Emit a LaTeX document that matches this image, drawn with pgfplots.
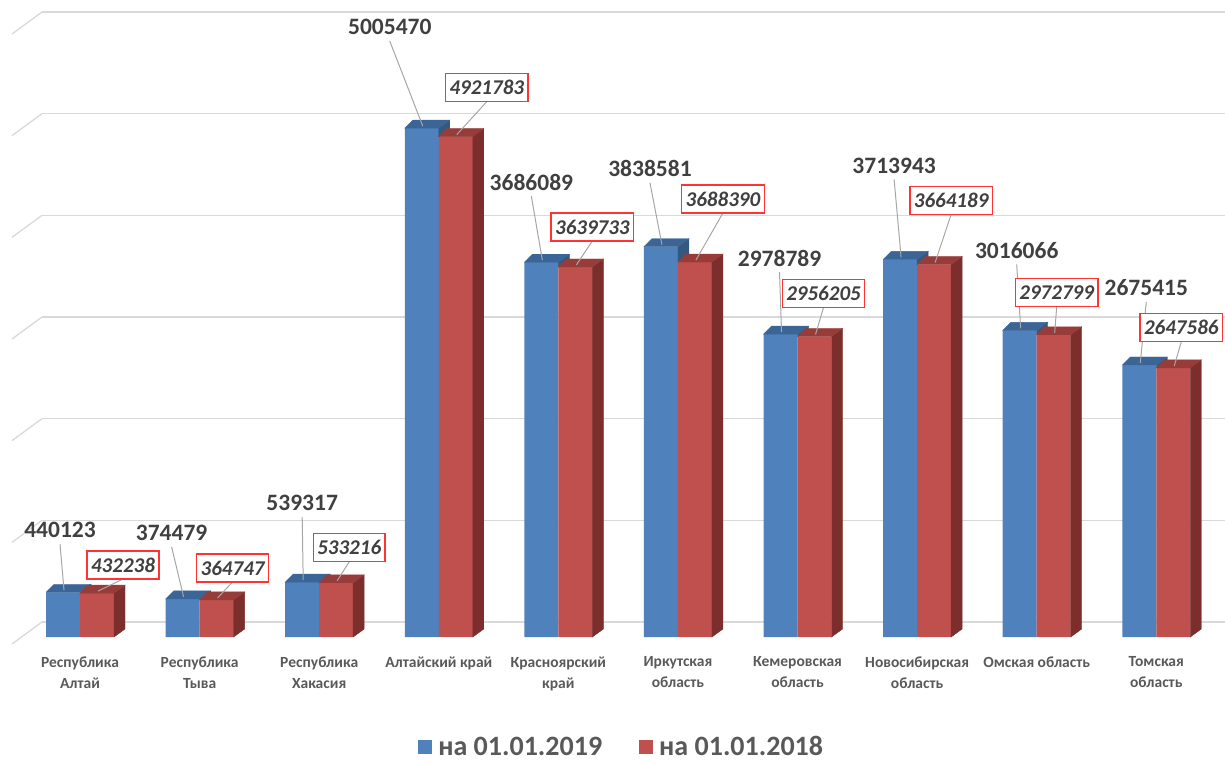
\documentclass[border=0pt]{standalone}
\usepackage{pgfplots}
\pgfplotsset{compat=1.18}
\usepackage{pgfplotstable}
\usepackage{fontspec}
\setmainfont{Carlito}
\definecolor{blueF}{HTML}{4F81BD}
\definecolor{blueT}{HTML}{3B6596}
\definecolor{blueS}{HTML}{34587F}
\definecolor{redF}{HTML}{C0504D}
\definecolor{redT}{HTML}{983C3A}
\definecolor{redS}{HTML}{7B2E2C}
\definecolor{numgray}{HTML}{404040}
\definecolor{catgray}{HTML}{595959}
\definecolor{gridgray}{HTML}{D9D9D9}
\definecolor{leadgray}{HTML}{A6A6A6}
\definecolor{boxred}{HTML}{FF3333}
\pgfdeclareplotmark{empty}{}

% x, 2019 value (a), 2018 value (b), label offsets (pt) for blue and red labels
\pgfplotstableread{
x a       b       bdx bdy rdx rdy
0 440123  432238  -3  62  26  28
1 374479  364747  -11 66  16  32
2 539317  533216  0   79  13  35
3 5005470 4921783 -32 101 31  49
4 3686089 3639733 -10 80  17  40
5 3838581 3688390 -11 78  28  63
6 2978789 2956205 -1  76  9   43
7 3713943 3664189 -6  94  17  64
8 3016066 2972799 -3  80  3   42
9 2675415 2647586 7   77  8   40
}\data

\newcommand\barheight[1]{%
  \begingroup
  \pgfkeys{/pgf/fpu=true,/pgf/fpu/output format=fixed}%
  \pgfmathparse{(#1)*610/6000000}%
  \xdef\hh{\pgfmathresult}%
  \endgroup}

\begin{document}
\begin{tikzpicture}
\useasboundingbox (0,0) rectangle (1225pt,763pt);
\begin{axis}[
  at={(42pt,126pt)}, anchor=south west,
  scale only axis, width=1183pt, height=610pt,
  xmin=-0.318, xmax=9.575, ymin=0, ymax=6000000,
  clip=false,
  axis line style={draw=none},
  major tick length=0pt,
  scaled y ticks=false,
  ytick={0,1000000,2000000,3000000,4000000,5000000,6000000},
  yticklabels={},
  ymajorgrids,
  major grid style={draw=gridgray, line width=1.3pt, yshift=15pt},
  xtick={0,1,2,3,4,5,6,7,8,9},
  xticklabels={{Республика\\Алтай},{Республика\\Тыва},{Республика\\Хакасия},{Алтайский край},{Красноярский\\край},{Иркутская\\область},{Кемеровская\\область},{Новосибирская\\область},{Омская область},{Томская\\область}},
  xticklabel style={font=\bfseries\fontsize{15.5pt}{21pt}\selectfont, text=catgray, align=center, yshift=-16pt},
  legend style={draw=none, fill=none, legend columns=2, at={(0.49,-0.1803)}, anchor=center,
    font=\bfseries\fontsize{28pt}{30pt}\selectfont, text=catgray,
    /tikz/every odd column/.append style={column sep=4pt},
    /tikz/every even column/.append style={column sep=35pt}},
]
\pgfplotsinvokeforeach{0,...,6}{
  \draw[gridgray, line width=1.3pt] (rel axis cs:0,#1/6) ++(0pt,15pt) -- ++(-30pt,-22pt);
}
% blue top/side faces + leader lines
\addplot[forget plot, only marks, scatter, mark=empty,
  visualization depends on={rawy \as \ry},
  visualization depends on={\thisrow{b} \as \rb},
  visualization depends on={\thisrow{bdx} \as \ldx},
  visualization depends on={\thisrow{bdy} \as \ldy},
  scatter/@pre marker code/.code={%
    \barheight{\ry-\rb}%
    \fill[blueS] (0pt,0pt) -- (11pt,8pt) -- (11pt,8pt-\hh pt) -- (0pt,-\hh pt) -- cycle;
    \fill[blueT] (-34pt,0pt) -- (-26pt,8pt) -- (11pt,8pt) -- (0pt,0pt) -- cycle;
    \pgfmathsetmacro\lx{-17+\ldx}\pgfmathsetmacro\ly{\ldy-14}%
    \draw[leadgray, line width=1pt] (-16pt,2pt) -- (\lx pt,\ly pt);
  },
  scatter/@post marker code/.code={},
] table[x=x,y=a]{\data};
% blue fronts
\addplot[ybar, bar width=34pt, bar shift=-17pt, fill=blueF, draw=none,
  point meta=explicit symbolic, nodes near coords,
  visualization depends on={\thisrow{bdx} \as \ldx},
  visualization depends on={\thisrow{bdy} \as \ldy},
  every node near coord/.append style={anchor=center, xshift=\ldx pt-17pt, yshift=\ldy pt,
    font=\bfseries\fontsize{23.5pt}{26pt}\selectfont, text=numgray},
  legend image code/.code={\fill[blueF] (0pt,-7pt) rectangle (14pt,7pt);}
] table[x=x,y=a,meta=a]{\data};
\addlegendentry{на 01.01.2019}
% red top/side faces + leader lines
\addplot[forget plot, only marks, scatter, mark=empty,
  visualization depends on={rawy \as \ry},
  visualization depends on={\thisrow{rdx} \as \ldx},
  visualization depends on={\thisrow{rdy} \as \ldy},
  scatter/@pre marker code/.code={%
    \barheight{\ry}%
    \fill[redS] (34pt,0pt) -- (45pt,8pt) -- (45pt,8pt-\hh pt) -- (34pt,-\hh pt) -- cycle;
    \fill[redT] (0pt,0pt) -- (8pt,8pt) -- (45pt,8pt) -- (34pt,0pt) -- cycle;
    \pgfmathsetmacro\lx{17+\ldx}\pgfmathsetmacro\ly{\ldy-14}%
    \draw[leadgray, line width=1pt] (18pt,2pt) -- (\lx pt,\ly pt);
  },
  scatter/@post marker code/.code={},
] table[x=x,y=b]{\data};
% red fronts
\addplot[ybar, bar width=34pt, bar shift=17pt, fill=redF, draw=none,
  point meta=explicit symbolic, nodes near coords,
  visualization depends on={\thisrow{rdx} \as \ldx},
  visualization depends on={\thisrow{rdy} \as \ldy},
  every node near coord/.append style={anchor=center, xshift=\ldx pt+17pt, yshift=\ldy pt,
    font=\bfseries\itshape\fontsize{21pt}{24pt}\selectfont, text=numgray,
    draw=boxred, line width=1.3pt, fill=white, inner xsep=4pt, minimum height=28pt},
  legend image code/.code={\fill[redF] (0pt,-7pt) rectangle (14pt,7pt);}
] table[x=x,y=b,meta=b]{\data};
\addlegendentry{на 01.01.2018}
\end{axis}
\end{tikzpicture}
\end{document}
